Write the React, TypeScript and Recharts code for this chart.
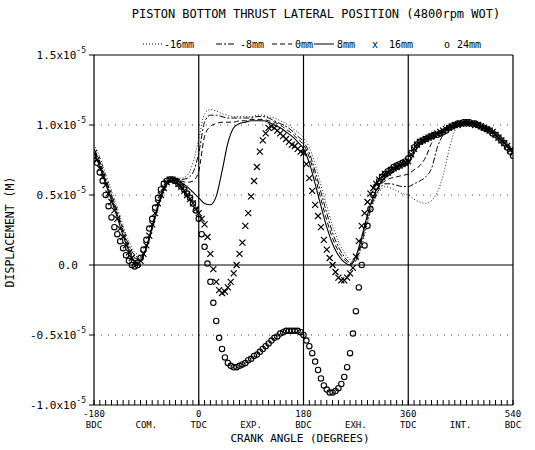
import React from "react";
import { ComposedChart, Line, XAxis, YAxis, ReferenceLine, Legend } from "recharts";

const FONT = "'DejaVu Sans Mono', monospace";

// crank angle grids (deg)
const lineAngles = Array.from({ length: 73 }, (_, i) => -180 + i * 10);
const markerAngles = Array.from({ length: 145 }, (_, i) => -180 + i * 5);

// displacement, units of 1e-5 m, every 10 deg from -180
const minus16mm = [
  0.86, 0.77, 0.65, 0.53, 0.41, 0.28, 0.17, 0.09, 0.07, 0.12,
  0.25, 0.4, 0.52, 0.59, 0.62, 0.62, 0.64, 0.73, 0.9, 1.08,
  1.11, 1.1, 1.08, 1.07, 1.06, 1.06, 1.06, 1.06, 1.07, 1.07,
  1.06, 1.05, 1.03, 1.01, 0.98, 0.95, 0.91, 0.84, 0.72, 0.57,
  0.42, 0.28, 0.17, 0.09, 0.04, 0.03, 0.13, 0.3, 0.44, 0.52,
  0.56, 0.55, 0.53, 0.51, 0.5, 0.47, 0.45, 0.44, 0.46, 0.52,
  0.64, 0.82, 0.96, 1.0, 1.01, 1.01, 1.0, 0.99, 0.97, 0.94,
  0.9, 0.87, 0.83,
];
const minus8mm = [
  0.83, 0.74, 0.62, 0.5, 0.38, 0.25, 0.14, 0.07, 0.05, 0.12,
  0.26, 0.41, 0.53, 0.59, 0.61, 0.61, 0.62, 0.66, 0.8, 1.02,
  1.07, 1.07, 1.06, 1.05, 1.05, 1.05, 1.05, 1.05, 1.06, 1.06,
  1.05, 1.03, 1.01, 0.99, 0.96, 0.92, 0.88, 0.8, 0.67, 0.52,
  0.37, 0.23, 0.13, 0.06, 0.02, 0.03, 0.16, 0.32, 0.46, 0.54,
  0.58, 0.58, 0.57, 0.56, 0.56, 0.58, 0.6, 0.63, 0.69, 0.84,
  0.93, 0.97, 0.99, 1.0, 1.01, 1.01, 1.0, 0.98, 0.96, 0.93,
  0.89, 0.86, 0.82,
];
const zeroMm = [
  0.81, 0.72, 0.6, 0.48, 0.36, 0.23, 0.12, 0.05, 0.04, 0.12,
  0.27, 0.42, 0.54, 0.6, 0.61, 0.6, 0.59, 0.6, 0.67, 0.92,
  0.99, 1.01, 1.02, 1.02, 1.02, 1.03, 1.03, 1.04, 1.04, 1.04,
  1.03, 1.02, 1.0, 0.97, 0.94, 0.9, 0.86, 0.77, 0.63, 0.47,
  0.32, 0.19, 0.1, 0.04, 0.01, 0.04, 0.18, 0.34, 0.48, 0.56,
  0.6, 0.62, 0.63, 0.64, 0.65, 0.68, 0.71, 0.77, 0.87, 0.93,
  0.96, 0.98, 1.0, 1.01, 1.01, 1.01, 1.0, 0.98, 0.96, 0.93,
  0.89, 0.85, 0.81,
];
const plus8mm = [
  0.8, 0.7, 0.58, 0.46, 0.34, 0.21, 0.1, 0.03, 0.03, 0.13,
  0.28, 0.43, 0.55, 0.6, 0.61, 0.59, 0.56, 0.52, 0.48, 0.44,
  0.43, 0.49, 0.67, 0.87, 0.98, 1.01, 1.02, 1.03, 1.03, 1.03,
  1.02, 1.0, 0.98, 0.95, 0.92, 0.88, 0.83, 0.73, 0.58, 0.42,
  0.27, 0.15, 0.07, 0.02, 0.0, 0.06, 0.2, 0.36, 0.49, 0.57,
  0.62, 0.65, 0.68, 0.7, 0.72, 0.8, 0.86, 0.9, 0.92, 0.94,
  0.96, 0.98, 1.0, 1.01, 1.01, 1.01, 1.0, 0.98, 0.96, 0.93,
  0.89, 0.85, 0.8,
];

// every 5 deg from -180
const plus16mm = [
  0.8, 0.75, 0.69, 0.63, 0.57, 0.51, 0.45, 0.39, 0.33, 0.26,
  0.2, 0.14, 0.09, 0.05, 0.02, 0.01, 0.03, 0.08, 0.14, 0.21,
  0.29, 0.37, 0.44, 0.5, 0.55, 0.59, 0.61, 0.61, 0.6, 0.58,
  0.56, 0.53, 0.5, 0.47, 0.44, 0.4, 0.37, 0.33, 0.29, 0.2,
  0.08, -0.03, -0.12, -0.18, -0.2, -0.19, -0.16, -0.12, -0.06, 0.0,
  0.08, 0.16, 0.28, 0.37, 0.49, 0.6, 0.7, 0.81, 0.89, 0.94,
  0.98, 0.99, 0.98, 0.96, 0.94, 0.92, 0.9, 0.88, 0.86, 0.85,
  0.83, 0.81, 0.8, 0.72, 0.62, 0.53, 0.43, 0.35, 0.27, 0.18,
  0.11, 0.05, 0.0, -0.05, -0.09, -0.11, -0.11, -0.09, -0.06, -0.02,
  0.06, 0.17, 0.28, 0.37, 0.45, 0.51, 0.55, 0.58, 0.61, 0.63,
  0.65, 0.66, 0.68, 0.69, 0.7, 0.71, 0.72, 0.73, 0.74, 0.79,
  0.83, 0.86, 0.88, 0.89, 0.9, 0.91, 0.92, 0.93, 0.94, 0.95,
  0.96, 0.97, 0.98, 0.99, 1.0, 1.0, 1.01, 1.01, 1.01, 1.01,
  1.01, 1.0, 1.0, 0.99, 0.98, 0.97, 0.96, 0.95, 0.93, 0.91,
  0.89, 0.87, 0.85, 0.82, 0.8,
];
const plus24mm = [
  0.78, 0.73, 0.66, 0.6, 0.5, 0.42, 0.34, 0.27, 0.22, 0.17,
  0.12, 0.07, 0.03, 0.0, -0.01, 0.0, 0.05, 0.11, 0.18, 0.26,
  0.33, 0.41, 0.48, 0.54, 0.58, 0.6, 0.61, 0.61, 0.6, 0.58,
  0.56, 0.54, 0.51, 0.48, 0.44, 0.39, 0.33, 0.22, 0.13, 0.01,
  -0.12, -0.27, -0.4, -0.52, -0.6, -0.66, -0.7, -0.72, -0.73, -0.73,
  -0.72, -0.71, -0.7, -0.68, -0.67, -0.65, -0.64, -0.62, -0.6, -0.58,
  -0.56, -0.54, -0.52, -0.51, -0.49, -0.48, -0.47, -0.47, -0.47, -0.47,
  -0.47, -0.48, -0.5, -0.54, -0.58, -0.63, -0.69, -0.75, -0.81, -0.86,
  -0.89, -0.91, -0.91, -0.9, -0.88, -0.85, -0.8, -0.73, -0.63, -0.49,
  -0.33, -0.16, 0.0, 0.14, 0.28, 0.4, 0.5, 0.56, 0.6, 0.63,
  0.65, 0.67, 0.68, 0.7, 0.71, 0.72, 0.73, 0.74, 0.76, 0.8,
  0.84, 0.86, 0.88, 0.89, 0.9, 0.91, 0.92, 0.93, 0.93, 0.94,
  0.95, 0.96, 0.98, 0.99, 1.0, 1.01, 1.01, 1.02, 1.02, 1.02,
  1.01, 1.01, 1.0, 0.99, 0.98, 0.97, 0.96, 0.94, 0.93, 0.91,
  0.89, 0.87, 0.84, 0.81, 0.78,
];

const xTicks = Array.from({ length: 73 }, (_, i) => -180 + i * 10);
const xTickLabels: Record<string, [string, string]> = {
  "-180": ["-180", "BDC"],
  "-90": ["", "COM."],
  "0": ["0", "TDC"],
  "90": ["", "EXP."],
  "180": ["180", "BDC"],
  "270": ["", "EXH."],
  "360": ["360", "TDC"],
  "450": ["", "INT."],
  "540": ["540", "BDC"],
};
const yTicks = [-1, -0.5, 0, 0.5, 1, 1.5];
const yTickLabels = ["-1.0", "-0.5", "0.0", "0.5", "1.0", "1.5"];

const toPoints = (angles: number[], vals: number[]) =>
  angles.map((a, i) => ({ a, v: vals[i] }));

const renderXTick = (props: any) => {
  const { x, y, payload } = props;
  const lab = xTickLabels[String(payload.value)];
  return (
    <g>
      <line x1={x} x2={x} y1={y} y2={y - 5} stroke="#000" strokeWidth={1} />
      {lab && lab[0] && (
        <text x={x} y={y + 12} textAnchor="middle" fontSize={9} fontFamily={FONT} fill="#000">
          {lab[0]}
        </text>
      )}
      {lab && (
        <text x={x} y={y + 23} textAnchor="middle" fontSize={9} fontFamily={FONT} fill="#000">
          {lab[1]}
        </text>
      )}
    </g>
  );
};

const renderYTick = (props: any) => {
  const { x, y, payload } = props;
  const lab = yTickLabels[yTicks.indexOf(payload.value)];
  if (payload.value === 0) {
    return (
      <text x={x - 8} y={y + 4} textAnchor="end" fontSize={11} fontFamily={FONT} fill="#000">
        {lab}
      </text>
    );
  }
  return (
    <text x={x} y={y + 4} textAnchor="end" fontSize={11} fontFamily={FONT} fill="#000">
      {lab}x10
      <tspan dy={-6} fontSize={8}>-5</tspan>
    </text>
  );
};

const renderCross = (props: any) => {
  const { cx, cy, index } = props;
  if (cx == null || cy == null) return <g key={index} />;
  const s = 3;
  return (
    <path
      key={index}
      d={`M${cx - s},${cy - s}L${cx + s},${cy + s}M${cx - s},${cy + s}L${cx + s},${cy - s}`}
      stroke="#000"
      strokeWidth={1.2}
      fill="none"
    />
  );
};

const renderRing = (props: any) => {
  const { cx, cy, index } = props;
  if (cx == null || cy == null) return <g key={index} />;
  return <circle key={index} cx={cx} cy={cy} r={2.7} stroke="#000" strokeWidth={1.1} fill="none" />;
};

const renderYLabel = () => (
  <text
    transform="translate(14,232) rotate(-90)"
    textAnchor="middle"
    fontSize={11.5}
    fontFamily={FONT}
    fill="#000"
  >
    DISPLACEMENT (M)
  </text>
);

const renderXLabel = () => (
  <text x={300} y={442} textAnchor="middle" fontSize={11} fontFamily={FONT} fill="#000">
    CRANK ANGLE (DEGREES)
  </text>
);

const TitleAndLegend = () => {
  const ly = 48;
  const txt = { fontSize: 10, fontFamily: FONT, fill: "#000" };
  return (
    <svg width={535} height={60} style={{ display: "block" }}>
      <text x={316} y={18} textAnchor="middle" fontSize={12} fontFamily={FONT} fill="#000">
        PISTON BOTTOM THRUST LATERAL POSITION (4800rpm WOT)
      </text>
      <line x1={143} x2={162} y1={ly - 4} y2={ly - 4} stroke="#000" strokeDasharray="1 2" />
      <text x={164} y={ly} {...txt}>-16mm</text>
      <line x1={216} x2={236} y1={ly - 4} y2={ly - 4} stroke="#000" strokeDasharray="6 2 2 2" />
      <text x={240} y={ly} {...txt}>-8mm</text>
      <line x1={272} x2={292} y1={ly - 4} y2={ly - 4} stroke="#000" strokeDasharray="5 3" />
      <text x={295} y={ly} {...txt}>0mm</text>
      <line x1={314} x2={334} y1={ly - 4} y2={ly - 4} stroke="#000" />
      <text x={337} y={ly} {...txt}>8mm</text>
      <text x={372} y={ly} {...txt}>x</text>
      <text x={389} y={ly} {...txt}>16mm</text>
      <text x={444} y={ly} {...txt}>o</text>
      <text x={457} y={ly} {...txt}>24mm</text>
    </svg>
  );
};

export default function App() {
  return (
    <div style={{ position: "absolute", left: 0, top: 0, background: "#fff" }}>
      <ComposedChart
        width={535}
        height={450}
        margin={{ top: 55, right: 22, bottom: 5, left: 0 }}
      >
        <XAxis
          dataKey="a"
          type="number"
          domain={[-180, 540]}
          ticks={xTicks}
          interval={0}
          tick={renderXTick}
          tickLine={false}
          axisLine={false}
          tickSize={0}
          tickMargin={0}
          height={40}
          allowDataOverflow
          label={renderXLabel}
        />
        <YAxis
          type="number"
          domain={[-1, 1.5]}
          ticks={yTicks}
          interval={0}
          tick={renderYTick}
          tickLine={{ stroke: "#000" }}
          tickSize={5}
          tickMargin={3}
          axisLine={false}
          width={94}
          allowDataOverflow
          label={renderYLabel}
        />
        {[1, 0.5, -0.5].map((y) => (
          <ReferenceLine key={"g" + y} y={y} stroke="#444" strokeDasharray="1 6" />
        ))}
        {[0, 180, 360].map((x) => (
          <ReferenceLine key={"v" + x} x={x} stroke="#000" strokeWidth={1.2} />
        ))}
        <ReferenceLine y={0} stroke="#000" strokeWidth={1.2} />
        <ReferenceLine y={1.5} stroke="#000" strokeWidth={1.2} />
        <ReferenceLine y={-1} stroke="#000" strokeWidth={1.2} />
        <ReferenceLine x={-180} stroke="#000" strokeWidth={1.2} />
        <ReferenceLine x={540} stroke="#000" strokeWidth={1.2} />

        <Line data={toPoints(lineAngles, minus16mm)} dataKey="v" type="monotone" stroke="#222" strokeWidth={1} strokeDasharray="1 2" dot={false} isAnimationActive={false} />
        <Line data={toPoints(lineAngles, minus8mm)} dataKey="v" type="monotone" stroke="#000" strokeWidth={1} strokeDasharray="6 2 2 2" dot={false} isAnimationActive={false} />
        <Line data={toPoints(lineAngles, zeroMm)} dataKey="v" type="monotone" stroke="#000" strokeWidth={1} strokeDasharray="5 3" dot={false} isAnimationActive={false} />
        <Line data={toPoints(lineAngles, plus8mm)} dataKey="v" type="monotone" stroke="#000" strokeWidth={1.1} dot={false} isAnimationActive={false} />
        <Line data={toPoints(markerAngles, plus16mm)} dataKey="v" type="monotone" stroke="none" dot={renderCross} activeDot={false} isAnimationActive={false} />
        <Line data={toPoints(markerAngles, plus24mm)} dataKey="v" type="monotone" stroke="none" dot={renderRing} activeDot={false} isAnimationActive={false} />

        <Legend
          content={<TitleAndLegend />}
          layout="horizontal"
          verticalAlign="middle"
          align="center"
          wrapperStyle={{ top: 0, left: 0, width: 535, height: 60 }}
        />
      </ComposedChart>
    </div>
  );
}
